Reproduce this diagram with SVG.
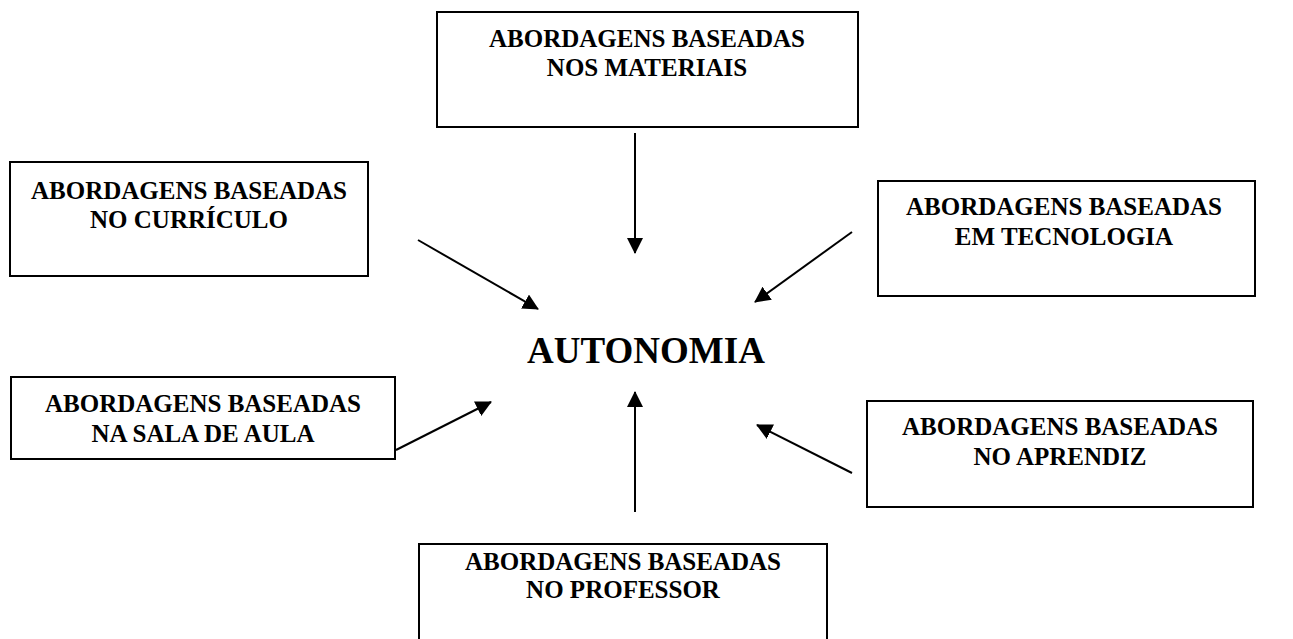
<svg xmlns="http://www.w3.org/2000/svg" width="1293" height="639" viewBox="0 0 1293 639">
<style>
.box{fill:#fff;stroke:#000;stroke-width:2}
.t{font-family:"Liberation Serif","Times New Roman",serif;font-weight:bold;font-size:25px;fill:#000;text-anchor:middle}
.main{font-family:"Liberation Serif","Times New Roman",serif;font-weight:bold;font-size:37px;fill:#000;text-anchor:middle}
.c{stroke:#000;stroke-width:2;fill:none;marker-end:url(#ah)}
</style>
<defs>
<marker id="ah" markerUnits="userSpaceOnUse" markerWidth="16" markerHeight="16" viewBox="0 0 16 16" refX="15" refY="8" orient="auto">
<path d="M0,0 L16,8 L0,16 Z" fill="#000"/>
</marker>
</defs>
<rect width="1293" height="639" fill="#fff"/>
<g id="materiais">
<rect class="box" x="437" y="12" width="421" height="115"/>
<text class="t" x="647" y="47">ABORDAGENS BASEADAS</text>
<text class="t" x="647" y="76">NOS MATERIAIS</text>
</g>
<g id="curriculo">
<rect class="box" x="10" y="162" width="358" height="114"/>
<text class="t" x="189" y="199">ABORDAGENS BASEADAS</text>
<text class="t" x="189" y="228">NO CURRÍCULO</text>
</g>
<g id="tecnologia">
<rect class="box" x="878" y="181" width="377" height="115"/>
<text class="t" x="1064" y="215">ABORDAGENS BASEADAS</text>
<text class="t" x="1064" y="245">EM TECNOLOGIA</text>
</g>
<g id="sala">
<rect class="box" x="11" y="377" width="384" height="82"/>
<text class="t" x="203" y="412">ABORDAGENS BASEADAS</text>
<text class="t" x="203" y="442">NA SALA DE AULA</text>
</g>
<g id="aprendiz">
<rect class="box" x="867" y="401" width="386" height="106"/>
<text class="t" x="1060" y="435">ABORDAGENS BASEADAS</text>
<text class="t" x="1060" y="465">NO APRENDIZ</text>
</g>
<g id="professor">
<rect class="box" x="419" y="544" width="408" height="105"/>
<text class="t" x="623" y="570">ABORDAGENS BASEADAS</text>
<text class="t" x="623" y="598">NO PROFESSOR</text>
</g>
<g id="autonomia">
<text class="main" x="646" y="363">AUTONOMIA</text>
</g>
<g id="connectors">
<line class="c" x1="635" y1="133" x2="635" y2="253"/>
<line class="c" x1="635" y1="512" x2="635" y2="392"/>
<line class="c" x1="418" y1="240" x2="538" y2="309"/>
<line class="c" x1="852" y1="232" x2="755" y2="302"/>
<line class="c" x1="396" y1="450" x2="491" y2="402"/>
<line class="c" x1="852" y1="473" x2="757" y2="425"/>
</g>
</svg>
